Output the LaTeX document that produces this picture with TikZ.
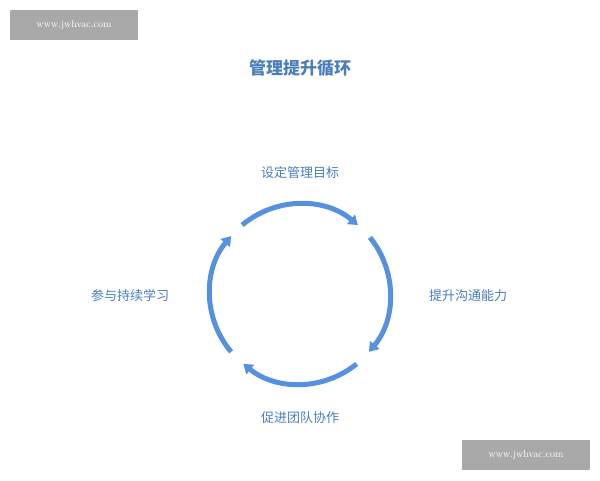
\documentclass[tikz,border=0pt]{standalone}
\usepackage{fontspec}
\newfontfamily\cjk{Noto Sans CJK SC}
\usetikzlibrary{arrows.meta}
\definecolor{cycleblue}{HTML}{5591DE}
\definecolor{textblue}{HTML}{4A7EBB}
\definecolor{markgray}{HTML}{A9A9A9}
\def\rad{90}

\begin{document}
\begin{tikzpicture}[x=1pt,y=-1pt,
    arrowtip/.style={
      -{Triangle[length=9pt,width=12pt]}
    },
    cyclearc/.style={
      draw=cycleblue,line width=5pt
    },
    phase/.style={
      font=\cjk\fontsize{13}{15}\selectfont,text=textblue
    },
    watermark/.style={
      fill=markgray,text=white,font=\fontsize{10}{12}\selectfont,
      minimum width=128pt,minimum height=30pt,inner sep=0pt
    }
  ]
    \useasboundingbox (0,0) rectangle (600,480);

    % title and watermarks
    \node[font=\cjk\bfseries\fontsize{17}{20}\selectfont,text=textblue] (Title) at (300,68) {管理提升循环};
    \node[watermark] (MarkA) at (74,25)  {www.jwhvac.com};
    \node[watermark] (MarkB) at (526,455) {www.jwhvac.com};

    % phases
    \coordinate (C) at (300,294);
    \node[phase] (PhaseA) at (300,173) {设定管理目标};
    \node[phase] (PhaseB) at (468,296) {提升沟通能力};
    \node[phase] (PhaseC) at (300,418) {促进团队协作};
    \node[phase] (PhaseD) at (130,296) {参与持续学习};

    % arrows
    \draw[cyclearc,arrowtip] (C) ++(-130:\rad) arc[start angle=-130,end angle=-50,radius=\rad];
    \draw[cyclearc,arrowtip] (C) ++(-39:\rad)  arc[start angle=-39,end angle=40,radius=\rad];
    \draw[cyclearc,arrowtip] (C) ++(51:\rad)   arc[start angle=51,end angle=129,radius=\rad];
    \draw[cyclearc,arrowtip] (C) ++(140:\rad)  arc[start angle=140,end angle=220,radius=\rad];
  \end{tikzpicture}
\end{document}
